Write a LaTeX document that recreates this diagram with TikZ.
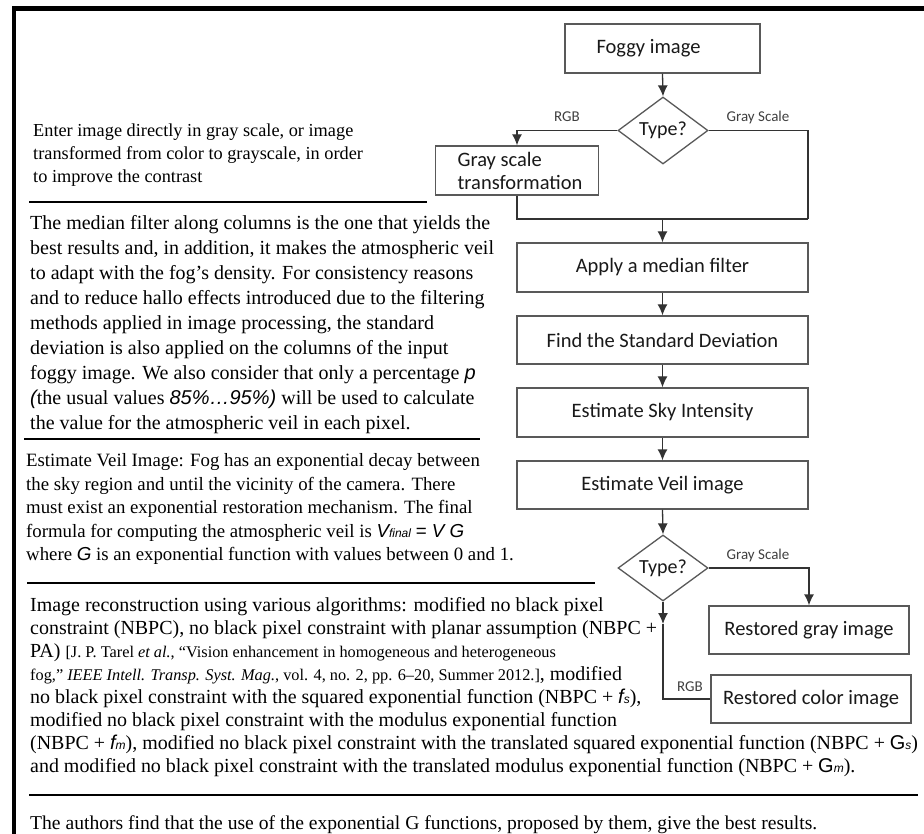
\documentclass[tikz,border=0pt]{standalone}
\usepackage{fontspec}
\setmainfont{Liberation Serif}
\setsansfont{Liberation Sans}
\newfontfamily\calfont{Carlito}
\usetikzlibrary{shapes.geometric,arrows.meta}
\newcommand{\smi}[1]{{\sffamily\itshape #1}}
\newcommand{\subsm}[1]{{\sffamily\itshape\fontsize{12}{12}\selectfont #1}}
\begin{document}
\begin{tikzpicture}[x=1pt,y=-1pt,
  box/.style={draw=black!65, line width=1.3pt, rectangle, inner sep=0pt,
    font=\calfont\fontsize{20.5}{23}\selectfont, text=black!90},
  dia/.style={draw=black!65, line width=1.3pt, diamond, inner sep=0pt,
    minimum width=90pt, minimum height=67pt,
    font=\calfont\fontsize{20}{24}\selectfont, text=black!90},
  lab/.style={font=\calfont\fontsize{15}{18}\selectfont, text=black!75, inner sep=0pt},
  conn/.style={draw=black!80, line width=1.3pt},
  arr/.style={conn, -{Latex[length=11pt,width=10pt]}},
  para/.style={align=left, anchor=north west, inner sep=0pt},
  sepline/.style={line width=1.2pt}
]
\useasboundingbox (0,0) rectangle (924,834);
\fill[white] (0,0) rectangle (924,834);
% outer frame
\draw[line width=4.5pt, line join=miter] (14,834) -- (14,8.5) -- (924,8.5);

% flowchart
\node[box, minimum width=195pt, minimum height=49pt] (fog) at (662.5,48.5) {Foggy image\hspace*{28pt}};
\node[dia] (d1) at (663,130.5) {Type?};
\node[box, minimum width=163pt, minimum height=49pt, align=left] (gst) at (517,170.5) {\hspace*{6pt}Gray scale\\\hspace*{6pt}transformation};
\node[box, minimum width=291pt, minimum height=49pt] (apply) at (662.5,267.5) {Apply a median filter};
\node[box, minimum width=291pt, minimum height=48pt] (std) at (662.5,340) {Find the Standard Deviation};
\node[box, minimum width=291pt, minimum height=49pt] (sky) at (662.5,412.5) {Estimate Sky Intensity};
\node[box, minimum width=291pt, minimum height=48pt] (veil) at (662.5,485) {Estimate Veil image};
\node[dia, minimum height=66pt] (d2) at (663,568) {Type?};
\node[box, minimum width=200pt, minimum height=48pt] (rg) at (809,630) {Restored gray image};
\node[box, minimum width=200pt, minimum height=48pt] (rc) at (811,699) {Restored color image};

\coordinate (jl) at (517,219);
\coordinate (jr) at (808,219);
\coordinate (rgbm) at (663,624);

\node[lab] (lrgb1) at (567,117) {RGB};
\node[lab] (lgs1) at (758,118) {Gray Scale};
\node[lab] (lgs2) at (758,555) {Gray Scale};
\node[lab] (lrgb2) at (690,687) {RGB};

\draw[arr] (fog.south) -- (d1.north);
\draw[arr] (d1.west) -| (gst.north);
\draw[conn] (d1.east) -| (jr);
\draw[conn] (gst.south) -- (jl) -- (jr);
\draw[arr] (apply.north |- jl) -- (apply.north);
\draw[arr] (apply.south) -- (std.north);
\draw[arr] (std.south) -- (sky.north);
\draw[arr] (sky.south) -- (veil.north);
\draw[arr] (veil.south) -- (d2.north);
\draw[arr] (d2.east) -| (rg.north);
\draw[arr] (d2.south) -- (rgbm);
\draw[conn] (rc.west) -| (rgbm);

% text column
\node[para, font=\fontsize{18.3}{23}\selectfont] (t1) at (33,124) {Enter image directly in gray scale, or image\\
transformed from color to grayscale, in order\\
to improve the contrast};
\draw[sepline] (29,202) -- (427,202);

\node[para, font=\fontsize{20}{25}\selectfont] (t2) at (30,215.5) {The median filter along columns is the one that yields the\\
best results and, in addition, it makes the atmospheric veil\\
to adapt with the fog’s density. For consistency reasons\\
and to reduce hallo effects introduced due to the filtering\\
methods applied in image processing, the standard\\
deviation is also applied on the columns of the input\\
foggy image. We also consider that only a percentage \smi{p}\\
\smi{(}the usual values \smi{85\%…95\%)} will be used to calculate\\
the value for the atmospheric veil in each pixel.};
\draw[sepline] (24,439) -- (480,439);

\node[para, font=\fontsize{18.8}{23.5}\selectfont] (t3) at (26,453.5) {Estimate Veil Image: Fog has an exponential decay between\\
the sky region and until the vicinity of the camera. There\\
must exist an exponential restoration mechanism. The final\\
formula for computing the atmospheric veil is \smi{V}\subsm{final} {\sffamily = \itshape V G}\\
where \smi{G} is an exponential function with values between 0 and 1.};
\draw[sepline] (27,583) -- (595,583);

\node[para, font=\fontsize{19.95}{23.1}\selectfont] (t4) at (30,597) {Image reconstruction using various algorithms: modified no black pixel\\
constraint (NBPC), no black pixel constraint with planar assumption (NBPC +\\
PA) {\fontsize{16.3}{18}\selectfont [J. P. Tarel \textit{et al.}, “Vision enhancement in homogeneous and heterogeneous}\\
{\fontsize{16.3}{18}\selectfont fog,” \textit{IEEE Intell. Transp. Syst. Mag.}, vol. 4, no. 2, pp. 6–20, Summer 2012.]}, modified\\
no black pixel constraint with the squared exponential function (NBPC + \smi{f}\subsm{s}),\\
modified no black pixel constraint with the modulus exponential function\\
(NBPC + \smi{f}\subsm{m}), modified no black pixel constraint with the translated squared exponential function (NBPC + {\sffamily G}\subsm{s})\\
and modified no black pixel constraint with the translated modulus exponential function (NBPC + {\sffamily G}\subsm{m}).};
\draw[sepline] (29,795) -- (918,795);

\node[para, font=\fontsize{19.6}{23}\selectfont] (t5) at (30,815) {The authors find that the use of the exponential G functions, proposed by them, give the best results.};
\end{tikzpicture}
\end{document}
